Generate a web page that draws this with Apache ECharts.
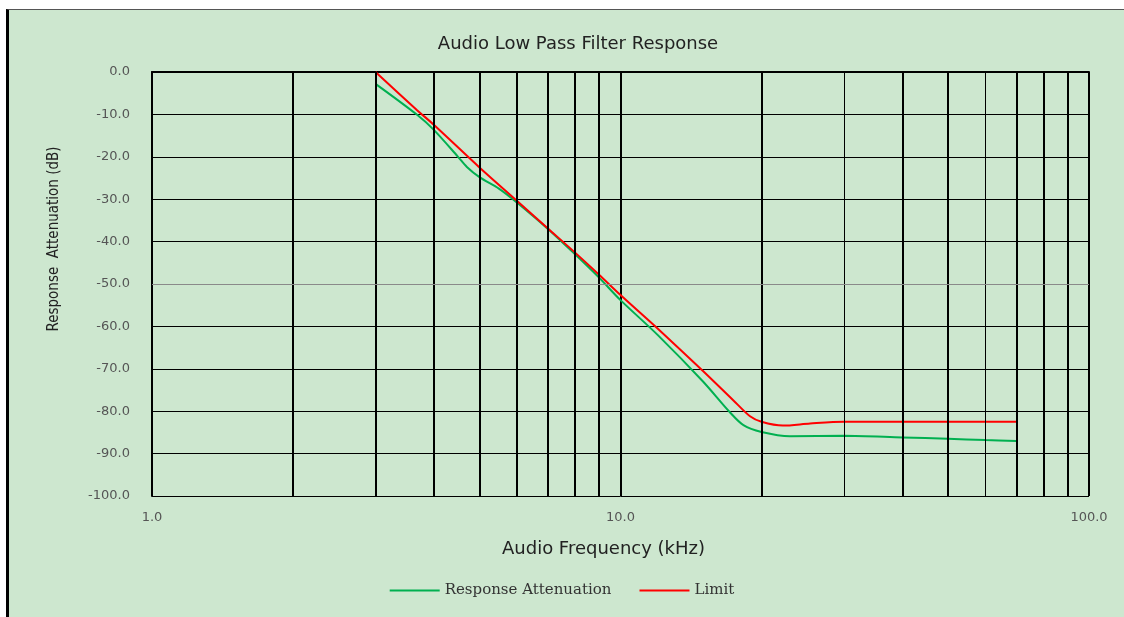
<!DOCTYPE html>
<html>
<head>
<meta charset="utf-8">
<script src="https://cdn.jsdelivr.net/npm/echarts@6/dist/echarts.min.js"></script>
<style>
  html, body { margin: 0; padding: 0; background: #ffffff; width: 1124px; height: 617px; overflow: hidden; }
  #bg { position: absolute; left: 6px; top: 9px; width: 1118px; height: 608px; background: #cde7cf;
        border-left: 3px solid #000; border-top: 1px solid #555; box-sizing: border-box; }
  #chart { position: absolute; left: 0; top: 0; width: 1124px; height: 617px; }
</style>
</head>
<body>
<div id="bg"></div>
<div id="chart"></div>
<script>
// Response Attenuation (green)
const respFreq = [3, 3.68, 4, 4.5, 4.7, 5, 5.5, 6, 7, 8, 9, 10, 12, 15, 17.1, 18.3, 20, 23, 30, 40, 50, 60, 70];
const respDb   = [-2.8, -10.1, -13.7, -20, -22.4, -24.8, -27.5, -30.7, -37, -43, -48.5, -53.8, -62, -73, -80.2, -83.3, -84.9, -85.9, -85.8, -86.2, -86.5, -86.8, -87];
// Limit (red)
const limitFreq = [3, 3.68, 4, 5, 6, 7, 8, 9, 10, 12, 15, 17.4, 18.9, 20, 22.2, 25.4, 30, 40, 50, 60, 70];
const limitDb   = [0, -9, -12.5, -22.5, -30.3, -36.9, -42.6, -47.8, -52.6, -60.5, -70.5, -77.4, -81.2, -82.5, -83.4, -82.9, -82.5, -82.5, -82.5, -82.5, -82.5];
// Minor vertical gridlines (kHz) and their weights
const thickGrid = [2, 3, 4, 5, 6, 7, 8, 9, 20, 40, 50, 70, 80, 90];
const thinGrid  = [30, 60];
const seriesNames = ['Response Attenuation', 'Limit'];

const chart = echarts.init(document.getElementById('chart'));
const pairs = (xs, ys) => xs.map((x, i) => [x, ys[i]]);

const gridMarks = []
  .concat(thickGrid.map(v => ({ xAxis: v, lineStyle: { width: 2, color: '#000', type: 'solid' } })))
  .concat(thinGrid.map(v => ({ xAxis: v, lineStyle: { width: 1, color: '#000', type: 'solid' } })))
  .concat([{ yAxis: -50, lineStyle: { width: 1, color: '#8a8a8a', type: 'solid' } }]);

chart.setOption({
  backgroundColor: 'transparent',
  animation: false,
  title: {
    text: 'Audio Low Pass Filter Response',
    left: 573, top: 30, textAlign: 'center',
    textStyle: { fontFamily: 'DejaVu Sans', fontSize: 18, fontWeight: 'normal', color: '#222' }
  },
  legend: {
    data: seriesNames.map(n => ({ name: n })),
    bottom: 14, left: 'center',
    icon: 'rect', itemWidth: 50, itemHeight: 2, itemGap: 28,
    textStyle: { fontFamily: 'DejaVu Serif', fontSize: 15, color: '#333' }
  },
  grid: { left: 152, right: 35, top: 72, bottom: 121, containLabel: false },
  xAxis: {
    type: 'log', logBase: 10, min: 1, max: 100,
    name: 'Audio Frequency (kHz)', nameLocation: 'middle', nameGap: 44,
    nameTextStyle: { fontFamily: 'DejaVu Sans', fontSize: 18, color: '#222', padding: [0, 34, 0, 0] },
    axisLine: { show: true, lineStyle: { color: '#000', width: 2 } },
    axisTick: { show: false },
    axisLabel: { formatter: v => v.toFixed(1), color: '#555', fontFamily: 'DejaVu Sans', fontSize: 13, margin: 15 },
    splitLine: { show: true, lineStyle: { color: '#000', width: 2 } }
  },
  yAxis: {
    type: 'value', min: -100, max: 0, interval: 10,
    name: 'Response  Attenuation (dB)', nameLocation: 'middle', nameGap: 90,
    nameTextStyle: { fontFamily: 'DejaVu Sans Condensed', fontSize: 15, color: '#222', padding: [0, 0, 0, 90] },
    axisLine: { show: true, lineStyle: { color: '#000', width: 2 } },
    axisTick: { show: false },
    axisLabel: { formatter: v => v.toFixed(1), color: '#555', fontFamily: 'DejaVu Sans', fontSize: 13, margin: 22 },
    splitLine: { show: true, lineStyle: { color: '#000', width: 1 } }
  },
  series: [
    {
      name: 'grid', type: 'line', data: [], z: 1, silent: true,
      markLine: { silent: true, symbol: 'none', label: { show: false }, animation: false, data: gridMarks }
    },
    {
      name: seriesNames[0], type: 'line', data: pairs(respFreq, respDb), smooth: 0.3,
      showSymbol: false, symbol: 'none', z: 3,
      lineStyle: { color: '#00b050', width: 2 }, itemStyle: { color: '#00b050' }
    },
    {
      name: seriesNames[1], type: 'line', data: pairs(limitFreq, limitDb), smooth: 0.3,
      showSymbol: false, symbol: 'none', z: 4,
      lineStyle: { color: '#ff0000', width: 2 }, itemStyle: { color: '#ff0000' }
    }
  ]
});
</script>
</body>
</html>
